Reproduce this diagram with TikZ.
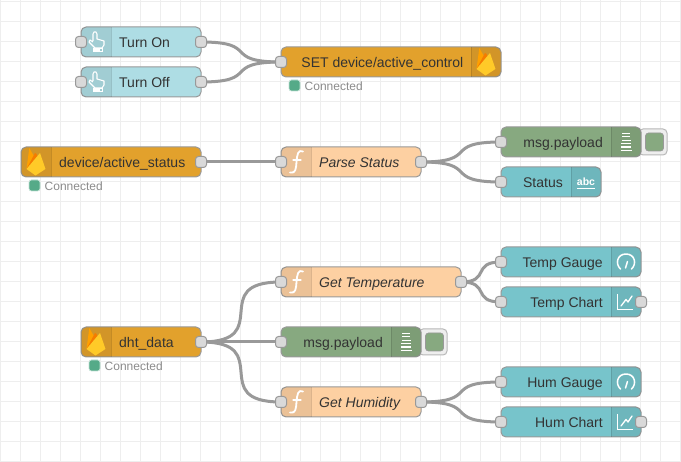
\documentclass[tikz,border=0pt]{standalone}
\usepackage{fontspec}
\setmainfont{Liberation Sans}
\definecolor{gridc}{HTML}{EEEEEE}
\definecolor{wirec}{HTML}{999999}
\definecolor{portc}{HTML}{D9D9D9}
\definecolor{fbc}{HTML}{E2A12C}
\definecolor{injc}{HTML}{AEDDE4}
\definecolor{fnc}{HTML}{FDD0A2}
\definecolor{dbgc}{HTML}{87A980}
\definecolor{uic}{HTML}{77C4CB}
\definecolor{txtc}{HTML}{333333}
\definecolor{stc}{HTML}{55AA88}
\definecolor{fbA}{HTML}{FFA000}
\definecolor{fbB}{HTML}{F57C00}
\definecolor{fbC}{HTML}{FFCA28}
\tikzset{
  bodybox/.style={draw=wirec,line width=1pt,rounded corners=5pt,minimum height=30pt,inner sep=0pt,outer sep=0pt},
  portbox/.style={draw=wirec,fill=portc,line width=1pt,rounded corners=3pt,minimum width=11pt,minimum height=11pt,inner sep=0pt,outer sep=0pt},
  wire/.style={draw=wirec,line width=3pt},
  lab/.style={text=txtc,font=\fontsize{14}{14}\selectfont,inner sep=0pt},
  stat/.style={text=gray!90,font=\fontsize{12}{12}\selectfont,inner sep=0pt,anchor=base west},
  statdot/.style={fill=stc,draw=stc!35,line width=.7pt,rounded corners=2.5pt,minimum width=11pt,minimum height=11pt,inner sep=0pt},
  whiteline/.style={draw=white,line width=1.3pt,line cap=round,line join=round},
  fbicon/.pic={
    \fill[fbA] (-9.5,7)--(-6.7,-14)--(-1,-4)--(1,-1)--cycle;
    \fill[fbB] (-9.5,7)--(-1,-9)--(0.5,-8)--(3,-2)--cycle;
    \fill[fbC] (-9.5,7)--(4,-9)--(9.5,7)--(-0.5,13.5)--cycle;
  },
  handicon/.pic={
    \draw[white,line width=1.1pt,line join=round] (-3,-1)--(-3,-8)--(-2,-10)--(0,-10)--(1,-8)--(1,-3)--(8,-1)--(8,3)--(6,6)--(-1,6)--(-7,0)--(-6,-2)--(-3,0);
    \draw[white,line width=1pt] (-2.5,6.5)--(6,6.5)--(6,10)--(-2.5,10)--cycle;
    \fill[white] (-2.5,7.5) rectangle (3.5,10);
  },
  fnicon/.pic={
    \draw[whiteline,line width=1.8pt] (7,-10.5) .. controls (2,-13) and (1,-7) .. (0.5,0) .. controls (0,6) and (0,12) .. (-6,10.5);
    \draw[whiteline,line width=1.3pt] (-3,-2)--(5,-2);
  },
  dbgicon/.pic={
    \foreach \yy/\hw in {-8.6/3.8,-5.2/4.2,-1.8/4.5,1.6/4.8,5/5.2,8.4/5.5} \draw[white,line width=1.1pt] (-\hw,\yy)--(\hw,\yy);
  },
  gaugeicon/.pic={
    \draw[whiteline,line width=1.5pt] (-5.5,7) .. controls (-11,2) and (-9,-8) .. (0,-8) .. controls (9,-8) and (11,2) .. (5.5,7);
    \draw[whiteline,line width=1.5pt] (-0.5,6)--(1.5,-0.5);
  },
  charticon/.pic={
    \draw[white,line width=1pt] (-8.5,-8)--(-8.5,7.5)--(7,7.5);
    \draw[whiteline] (-5,4)--(0,-2.5)--(2,0)--(6,-6);
  },
  abcicon/.pic={
    \node[text=white,inner sep=0pt,font=\bfseries\fontsize{10.5}{10.5}\selectfont] (abctext) at (0,-0.5) {abc};
    \draw[white,line width=1.5pt] (-9,6.5)--(9,6.5);
  }
}
\newcommand{\nrbody}[5]{\node[bodybox,fill=#5,minimum width=#4pt] (#1) at ({#2+#4/2},{#3+15}) {};}
\newcommand{\bandL}[1]{%
  \fill[black,opacity=.07] ([xshift=30pt]#1.north west) [rounded corners=5pt] -- (#1.north west) -- (#1.south west) [sharp corners] -- ([xshift=30pt]#1.south west) -- cycle;
  \draw[black,opacity=.12,line width=1pt] ([xshift=30pt]#1.north west) -- ([xshift=30pt]#1.south west);}
\newcommand{\bandR}[1]{%
  \fill[black,opacity=.07] ([xshift=-30pt]#1.north east) [rounded corners=5pt] -- (#1.north east) -- (#1.south east) [sharp corners] -- ([xshift=-30pt]#1.south east) -- cycle;
  \draw[black,opacity=.12,line width=1pt] ([xshift=-30pt]#1.north east) -- ([xshift=-30pt]#1.south east);}
\newcommand{\wirelink}[3]{\draw[wire] (#1.east) .. controls +(#3,0) and +(-#3,0) .. (#2.west);}
\begin{document}
\begin{tikzpicture}[x=1pt,y=-1pt]
\useasboundingbox (0,0) rectangle (681,462);
\fill[white] (0,0) rectangle (681,462);
\foreach \gx in {0,20,...,680} \draw[gridc,line width=1pt] (\gx,0)--(\gx,462);
\foreach \gy in {2,22,...,462} \draw[gridc,line width=1pt] (0,\gy)--(681,\gy);

% button backgrounds
\node[draw=wirec!70,fill=gridc,line width=1pt,rounded corners=4pt,minimum width=28pt,minimum height=26pt,inner sep=0pt] (btnA) at (653,142) {};
\node[draw=wirec!70,fill=gridc,line width=1pt,rounded corners=4pt,minimum width=28pt,minimum height=26pt,inner sep=0pt] (btnB) at (433,342) {};
\node[draw=wirec,fill=dbgc,line width=.7pt,rounded corners=3pt,minimum width=18pt,minimum height=18pt,inner sep=0pt] (btnAin) at (654.5,142) {};
\node[draw=wirec,fill=dbgc,line width=.7pt,rounded corners=3pt,minimum width=18pt,minimum height=18pt,inner sep=0pt] (btnBin) at (434.5,342) {};

% bodies
\nrbody{on}{81}{27}{120}{injc}
\nrbody{off}{81}{67}{120}{injc}
\nrbody{set}{281}{47}{220}{fbc}
\nrbody{dev}{21}{147}{180}{fbc}
\nrbody{parse}{281}{147}{140}{fnc}
\nrbody{dbgA}{501}{127}{140}{dbgc}
\nrbody{status}{501}{167}{100}{uic}
\nrbody{dht}{81}{327}{120}{fbc}
\nrbody{temp}{281}{267}{180}{fnc}
\nrbody{dbgB}{281}{327}{140}{dbgc}
\nrbody{hum}{281}{387}{140}{fnc}
\nrbody{tg}{501}{247}{140}{uic}
\nrbody{tc}{501}{287}{140}{uic}
\nrbody{hg}{501}{367}{140}{uic}
\nrbody{hc}{501}{407}{140}{uic}

\bandL{on}\bandL{off}\bandR{set}\bandL{dev}\bandL{parse}\bandR{dbgA}\bandR{status}
\bandL{dht}\bandL{temp}\bandR{dbgB}\bandL{hum}\bandR{tg}\bandR{tc}\bandR{hg}\bandR{hc}

% icons
\pic at (96,42) {handicon};
\pic at (96,82) {handicon};
\pic at (486,62) {fbicon};
\pic at (36,162) {fbicon};
\pic at (96,342) {fbicon};
\pic at (296,162) {fnicon};
\pic at (296,282) {fnicon};
\pic at (296,402) {fnicon};
\pic at (626,142) {dbgicon};
\pic at (406,342) {dbgicon};
\pic at (586,182) {abcicon};
\pic at (626,262) {gaugeicon};
\pic at (626,382) {gaugeicon};
\pic at (626,302) {charticon};
\pic at (626,422) {charticon};

% labels
\node[lab,anchor=base west] (tOn) at (119,48) {Turn On};
\node[lab,anchor=base west] (tOff) at (119,88) {Turn Off};
\node[lab,anchor=base east] (tSet) at (463.5,68) {SET device/active\_control};
\node[lab,anchor=base west] (tDev) at (59,168) {device/active\_status};
\node[lab,anchor=base west,font=\fontsize{14}{14}\selectfont\itshape] (tParse) at (319,168) {Parse Status};
\node[lab,anchor=base east] (tDbgA) at (603,148) {msg.payload};
\node[lab,anchor=base east] (tStatus) at (563,188) {Status};
\node[lab,anchor=base west] (tDht) at (119,348) {dht\_data};
\node[lab,anchor=base west,font=\fontsize{14}{14}\selectfont\itshape] (tTemp) at (319,288) {Get Temperature};
\node[lab,anchor=base east] (tDbgB) at (383,348) {msg.payload};
\node[lab,anchor=base west,font=\fontsize{14}{14}\selectfont\itshape] (tHum) at (319,408) {Get Humidity};
\node[lab,anchor=base east] (tTg) at (603,268) {Temp Gauge};
\node[lab,anchor=base east] (tTc) at (603,308) {Temp Chart};
\node[lab,anchor=base east] (tHg) at (603,388) {Hum Gauge};
\node[lab,anchor=base east] (tHc) at (603,428) {Hum Chart};

% status
\node[statdot] (sdA) at (294.5,85.5) {};
\node[stat] (stA) at (304.5,90.5) {Connected};
\node[statdot] (sdB) at (34.5,185.5) {};
\node[stat] (stB) at (44.5,190.5) {Connected};
\node[statdot] (sdC) at (94.5,365.5) {};
\node[stat] (stC) at (104.5,370.5) {Connected};

% wires
\wirelink{on}{set}{60}
\wirelink{off}{set}{60}
\wirelink{dev}{parse}{40}
\wirelink{parse}{dbgA}{60}
\wirelink{parse}{status}{60}
\wirelink{dht}{temp}{75}
\wirelink{dht}{dbgB}{40}
\wirelink{dht}{hum}{75}
\wirelink{temp}{tg}{30}
\wirelink{temp}{tc}{30}
\wirelink{hum}{hg}{60}
\wirelink{hum}{hc}{60}

% ports
\foreach \n in {on,off,dev,parse,dht,temp,hum,tc,hc} \node[portbox] (\n-out) at (\n.east) {};
\foreach \n in {set,parse,dbgA,status,temp,dbgB,hum,tg,tc,hg,hc} \node[portbox] (\n-in) at (\n.west) {};
\node[portbox] (on-in) at (on.west) {};
\node[portbox] (off-in) at (off.west) {};
\end{tikzpicture}
\end{document}
